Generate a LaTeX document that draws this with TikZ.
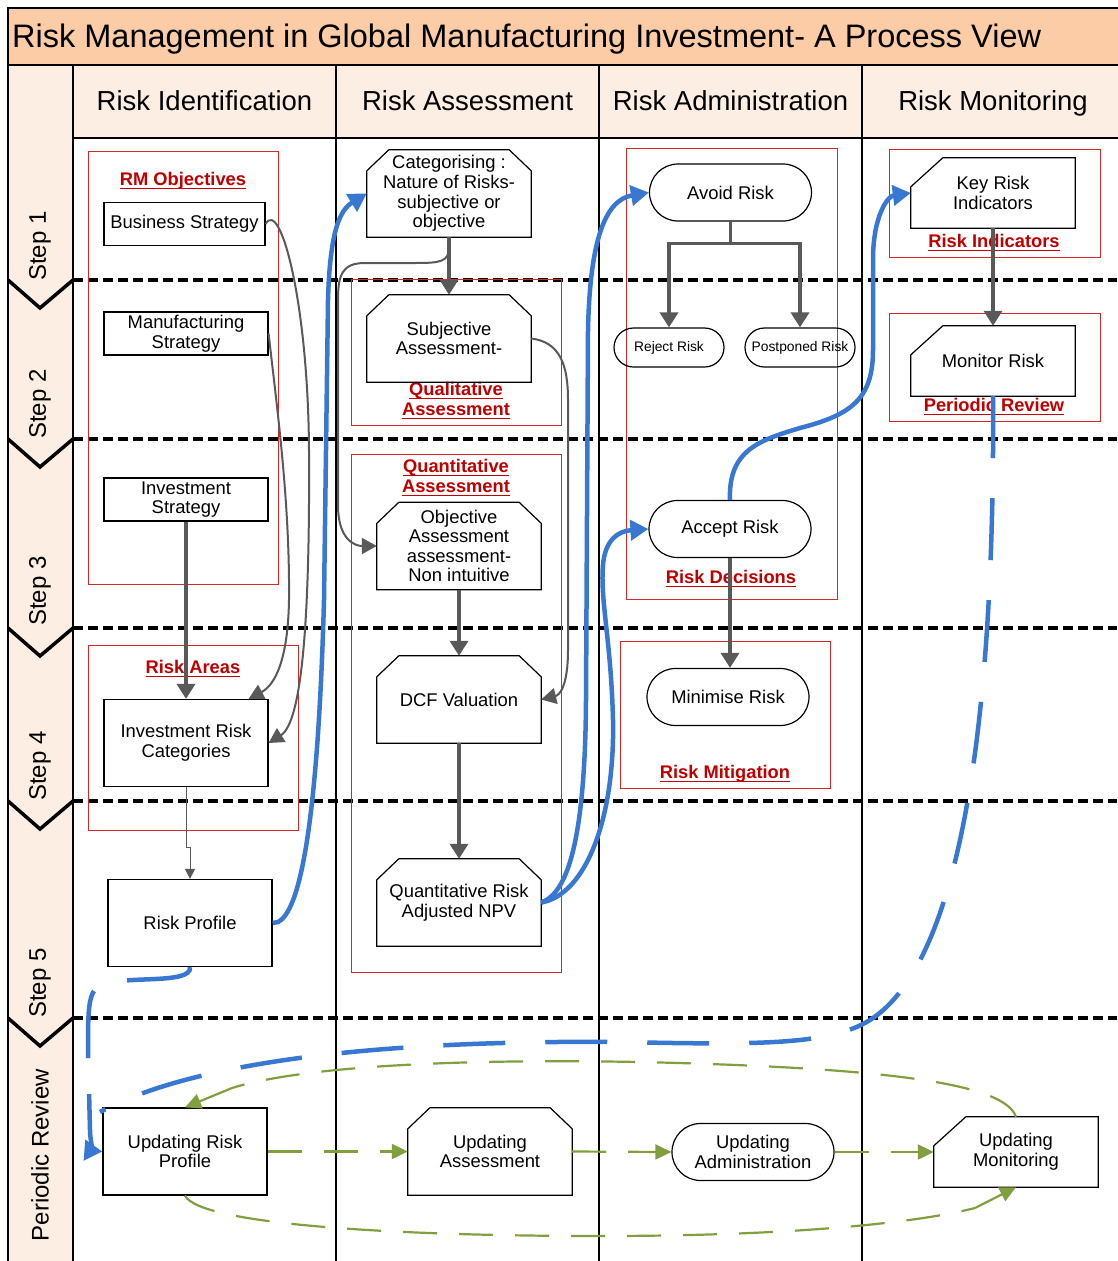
\documentclass[tikz,border=0pt]{standalone}
\usepackage{fontspec}
\setmainfont{Liberation Sans}
\usetikzlibrary{shapes.misc,arrows.meta}

\definecolor{titlefill}{RGB}{251,204,166}
\definecolor{lanefill}{RGB}{253,238,227}
\definecolor{rmred}{RGB}{192,0,0}
\definecolor{framered}{RGB}{215,40,40}
\definecolor{flowgray}{RGB}{89,89,89}
\definecolor{flowblue}{RGB}{56,120,210}
\definecolor{flowgreen}{RGB}{128,160,64}

\newsavebox{\ulbox}
\newcommand{\redul}[1]{\sbox{\ulbox}{#1}\rlap{\rule[-3.5pt]{\wd\ulbox}{1.6pt}}\usebox{\ulbox}}

\begin{document}
\begin{tikzpicture}[x=1pt,y=-1pt,
		every node/.style={align=center,inner sep=1pt,font=\fontsize{18.4}{19.6}\selectfont},
		sqbox/.style={draw,line width=1.2pt,minimum width=164pt,minimum height=87pt},
		stratbox/.style={draw,line width=1.2pt,minimum width=164pt,minimum height=43pt},
		cutbox/.style={minimum width=164pt,minimum height=87pt,
			append after command={\pgfextra{\draw[line width=1.2pt] ([yshift=-21pt]\tikzlastnode.north west) -- ([xshift=22pt]\tikzlastnode.north west) -- ([xshift=-22pt]\tikzlastnode.north east) -- ([yshift=-21pt]\tikzlastnode.north east) -- (\tikzlastnode.south east) -- (\tikzlastnode.south west) -- cycle;}}},
		flagbox/.style={minimum width=164pt,minimum height=70pt,
			append after command={\pgfextra{\draw[line width=1.2pt] ([yshift=-29pt]\tikzlastnode.north west) -- ([xshift=32pt]\tikzlastnode.north west) -- (\tikzlastnode.north east) -- (\tikzlastnode.south east) -- (\tikzlastnode.south west) -- cycle;}}},
		termbox/.style={draw,line width=1.2pt,rounded rectangle,minimum width=164pt,minimum height=57pt},
		smallterm/.style={termbox,minimum width=112pt,minimum height=39pt,font=\fontsize{13.8}{15}\selectfont},
		redlbl/.style={text=rmred,font=\fontsize{18.3}{20}\selectfont\bfseries},
		redframe/.style={draw=framered,line width=1pt},
		lanetext/.style={anchor=base,font=\fontsize{27.5}{30}\selectfont},
		steptext/.style={rotate=90,font=\fontsize{24}{26}\selectfont},
		stepline/.style={line width=3.5pt,dash pattern=on 10pt off 5pt},
		chevron/.style={line width=3.5pt},
		grayarrow/.style={draw=flowgray,line width=3.5pt,-{Triangle[width=18pt,length=15pt]}},
		graycurve/.style={draw=flowgray,line width=2pt,-{Triangle[width=16pt,length=15pt]}},
		bluearrow/.style={draw=flowblue,line width=4.5pt,-{Triangle[width=20pt,length=18pt]}},
		bluedash/.style={draw=flowblue,line width=4.5pt,dash pattern=on 62pt off 40pt},
		greendash/.style={draw=flowgreen,line width=2.2pt,dash pattern=on 34pt off 22pt},
		greentip/.style={draw=flowgreen,line width=2.2pt,-{Triangle[width=15pt,length=16pt]}},
		greenarrow/.style={greendash,-{Triangle[width=15pt,length=16pt]}}]
		\useasboundingbox (0,0) rectangle (1117,1261);
		\fill[white] (0,0) rectangle (1117,1261);
		\draw[fill=titlefill,line width=1.5pt] (8,8) rectangle (1122,65);
		\draw[fill=lanefill,line width=1.5pt] (8,65) rectangle (73,1266);
		\draw[fill=lanefill,line width=1.5pt] (73,65) rectangle (1122,138);
		\foreach \x in {336,599,862}
			\draw[line width=1.5pt] (\x,65) -- (\x,1266);
		\node[anchor=base west,font=\fontsize{32.5}{34}\selectfont] (title) at (11,47) {Risk Management in Global Manufacturing Investment- A Process View};
		\node[lanetext] (laneid) at (204.5,110) {Risk Identification};
		\node[lanetext] (laneas) at (467.5,110) {Risk Assessment};
		\node[lanetext] (lancad) at (730.5,110) {Risk Administration};
		\node[lanetext] (lanemo) at (993,110) {Risk Monitoring};
		\node[steptext] (step1) at (40,246) {Step 1};
		\node[steptext] (step2) at (40,404) {Step 2};
		\node[steptext] (step3) at (40,591) {Step 3};
		\node[steptext] (step4) at (40,766) {Step 4};
		\node[steptext] (step5) at (40,983) {Step 5};
		\node[steptext] (stepr) at (40,1155) {Periodic Review};
		\foreach \y in {280,439,628,801,1018} {
			\draw[stepline] (73,\y) -- (1117,\y);
			\draw[chevron] (8,\y) -- (40,\y+28) -- (73,\y);
		}
		\draw[redframe] (88,151) rectangle (278,584);
		\draw[redframe] (88,645) rectangle (298,830);
		\draw[redframe] (351,279) rectangle (561,425);
		\draw[redframe] (351,454) rectangle (561,972);
		\draw[redframe] (626,148) rectangle (837,599);
		\draw[redframe] (620,641) rectangle (830,788);
		\draw[redframe] (889,149) rectangle (1100,257);
		\draw[redframe] (889,313) rectangle (1100,421);
		\node[redlbl] (lblobj) at (183,181) {\redul{RM Objectives}};
		\node[redlbl] (lblarea) at (193,669) {\redul{Risk Areas}};
		\node[redlbl] (lblqual) at (456,401) {\redul{Qualitative}\\\redul{Assessment}};
		\node[redlbl] (lblquant) at (456,478) {\redul{Quantitative}\\\redul{Assessment}};
		\node[redlbl] (lbldec) at (731,579) {\redul{Risk Decisions}};
		\node[redlbl] (lblmit) at (725,774) {\redul{Risk Mitigation}};
		\node[redlbl] (lblind) at (994,243) {\redul{Risk Indicators}};
		\node[redlbl] (lblrev) at (994,407) {\redul{Periodic Review}};

		\node[stratbox,minimum width=161pt] (bstrat) at (184.5,224) {Business Strategy};
		\node[stratbox] (mstrat) at (186,333.5) {Manufacturing\\Strategy};
		\node[stratbox] (istrat) at (186,499.5) {Investment\\Strategy};
		\node[sqbox] (ircat) at (186,743) {Investment Risk\\Categories};
		\node[sqbox] (rprof) at (190,923) {Risk Profile};
		\node[cutbox] (categ) at (449,193.5) {Categorising :\\Nature of Risks-\\subjective or\\objective};
		\node[cutbox] (subj) at (449,338.5) {Subjective\\Assessment-};
		\node[cutbox] (objass) at (459,546) {Objective\\Assessment\\assessment-\\Non intuitive};
		\node[cutbox] (dcf) at (459,699.5) {DCF Valuation};
		\node[cutbox] (qnpv) at (459,902.5) {Quantitative Risk\\Adjusted NPV};
		\node[termbox] (avoid) at (730.5,192.5) {Avoid Risk};
		\node[smallterm] (reject) at (669,347.5) {Reject Risk};
		\node[smallterm] (postp) at (800,347.5) {Postponed Risk};
		\node[termbox] (accept) at (730,529) {Accept Risk};
		\node[termbox] (minim) at (728,697) {Minimise Risk};
		\node[flagbox] (kri) at (993,193) {Key Risk\\Indicators};
		\node[flagbox] (monit) at (993,361) {Monitor Risk};
		\node[sqbox] (uprof) at (185,1151.5) {Updating Risk\\Profile};
		\node[cutbox] (uass) at (490,1151.5) {Updating\\Assessment};
		\node[termbox] (uadm) at (753,1152) {Updating\\Administration};
		\node[flagbox] (umon) at (1016,1152) {Updating\\Monitoring};
		\coordinate (gtop) at (232,1088);
		\coordinate (gbot) at (975,1208);

		\draw[grayarrow] (avoid.south) -- ++(0,22) -| (reject.north);
		\draw[grayarrow] (avoid.south) -- ++(0,22) -| (postp.north);
		\draw[grayarrow] (kri.south) -- (monit.north);
		\draw[grayarrow] (categ.south) -- (subj.north);
		\draw[grayarrow] (objass.south) -- (dcf.north);
		\draw[grayarrow] (dcf.south) -- (qnpv.north);
		\draw[grayarrow] (accept.south) -- (accept.south |- minim.north);
		\draw[grayarrow] (istrat.south) -- (ircat.north);
		\draw[graycurve] (categ.south) -- ++(0,10) .. controls (449,262) and (440,263) .. (415,263) -- (365,263) .. controls (342,263) and (338,275) .. (338,300) -- (338,505) .. controls (338,540) and (355,546) .. (objass.west);
		\draw[graycurve] (subj.east) .. controls (560,342) and (568,365) .. (568,400) -- (568,650) .. controls (568,685) and (560,695) .. (dcf.east);
		\draw[graycurve] (bstrat.east) .. controls (280,198) and (308,300) .. (309,450) .. controls (310,620) and (302,722) .. (ircat.east);
		\draw[graycurve] (mstrat.east) .. controls (276,400) and (290,500) .. (289,600) .. controls (288,660) and (275,685) .. ([xshift=-20pt]ircat.north east);
		\draw[draw=flowgray,line width=1pt,-{Triangle[width=10pt,length=10pt]}] (ircat.south) -- ++(0,60) -| (rprof.north);

		\draw[bluearrow] (rprof.east) .. controls (300,925) and (318,820) .. (324,600) -- (328,300) .. controls (330,230) and (340,210) .. (categ.west);
		\draw[bluearrow] (qnpv.east) .. controls (562,895) and (585,860) .. (586,700) -- (588,330) .. controls (590,240) and (605,200) .. (avoid.west);
		\draw[bluearrow] (qnpv.east) .. controls (585,895) and (615,820) .. (613,720) .. controls (611,640) and (600,600) .. (603,565) .. controls (605,540) and (618,531) .. (accept.west);
		\draw[bluearrow] (accept.north) .. controls (728,450) and (760,440) .. (800,428) .. controls (850,415) and (873,400) .. (873,350) -- (873,260) .. controls (873,215) and (888,196) .. (kri.west);
		\draw[bluedash] (monit.south) .. controls (995,700) and (965,960) .. (870,1020) .. controls (830,1045) and (760,1045) .. (620,1042) .. controls (400,1040) and (200,1058) .. (100,1112);
		\draw[bluedash,dash pattern=on 68pt off 36pt,-{Triangle[width=20pt,length=18pt]}] (rprof.south) .. controls (192,985) and (125,975) .. (100,985) .. controls (88,992) and (88,1010) .. (88,1050) -- (90,1130) .. controls (90,1145) and (96,1151) .. (uprof.west);

		\draw[greenarrow] (uprof.east) -- (uass.west);
		\draw[greenarrow] (uass.east) -- (uadm.west);
		\draw[greenarrow] (uadm.east) -- (umon.west);
		\draw[greendash] (umon.north) .. controls (1005,1085) and (900,1068) .. (640,1062) .. controls (420,1058) and (290,1070) .. (gtop);
		\draw[greentip] (gtop) -- (uprof.north);
		\draw[greendash] (uprof.south) .. controls (200,1225) and (400,1236) .. (600,1236) .. controls (800,1236) and (920,1222) .. (gbot);
		\draw[greentip] (gbot) -- (umon.south);
\end{tikzpicture}
\end{document}
